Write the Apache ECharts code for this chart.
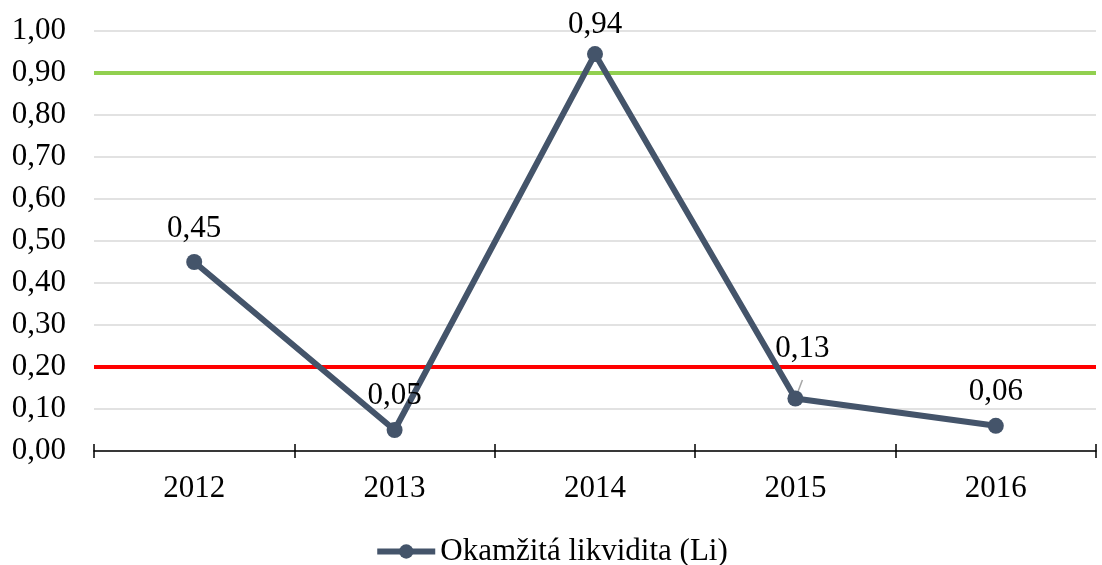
<!DOCTYPE html>
<html>
<head>
<meta charset="utf-8">
<script src="https://cdn.jsdelivr.net/npm/echarts@6/dist/echarts.min.js"></script>
<style>
  html, body { margin: 0; padding: 0; background: #fff; }
  #chart { width: 1102px; height: 565px; }
</style>
</head>
<body>
<div id="chart"></div>
<script>
var years = ["2012", "2013", "2014", "2015", "2016"];
var liValues = [0.45, 0.05, 0.945, 0.125, 0.06];
var upperLimit = 0.9;
var lowerLimit = 0.2;
var seriesName = "Okamžitá likvidita (Li)";

var font = "Liberation Serif, Times New Roman, serif";
var lineColor = "#44546A";

function fmt(v) {
  return v.toFixed(2).replace(".", ",");
}

// per point label tweaks, like the excel labels
var labelTweaks = [
  { distance: 10 },
  { distance: 11 },
  { distance: 6 },
  { distance: 26, offset: [7, 0] },
  { distance: 10 }
];

var seriesData = liValues.map(function (v, i) {
  var item = { value: v, label: labelTweaks[i] };
  if (i === 3) {
    item.labelLine = { show: true, lineStyle: { color: "#A6A6A6", width: 1.5 } };
  }
  return item;
});

var chart = echarts.init(document.getElementById("chart"));
chart.setOption({
  animation: false,
  textStyle: { fontFamily: font },
  grid: { left: 94, right: 6, top: 31, bottom: 114 },
  legend: {
    top: 531,
    left: "center",
    itemWidth: 58,
    itemHeight: 18,
    itemGap: 10,
    lineStyle: { width: 6 },
    textStyle: { fontFamily: font, fontSize: 31, color: "#000" },
    data: [seriesName]
  },
  xAxis: [
    {
      type: "category",
      data: years,
      boundaryGap: true,
      axisLine: { lineStyle: { color: "#000", width: 1.5 } },
      axisTick: { show: true, length: 7, lineStyle: { color: "#000", width: 1.5 } },
      axisLabel: { fontFamily: font, fontSize: 31, color: "#000", margin: 22 }
    },
    {
      type: "category",
      data: years,
      position: "bottom",
      boundaryGap: true,
      axisLine: { show: false },
      axisTick: { show: true, inside: true, length: 7, lineStyle: { color: "#000", width: 1.5 } },
      axisLabel: { show: false }
    }
  ],
  yAxis: {
    type: "value",
    min: 0,
    max: 1,
    interval: 0.1,
    axisLine: { show: false },
    axisTick: { show: false },
    splitLine: { lineStyle: { color: "#D9D9D9", width: 1.5 } },
    axisLabel: {
      fontFamily: font,
      fontSize: 31,
      color: "#000",
      margin: 28,
      formatter: function (v) { return fmt(v); }
    }
  },
  series: [
    {
      name: seriesName,
      type: "line",
      data: seriesData,
      xAxisIndex: 0,
      color: lineColor,
      lineStyle: { color: lineColor, width: 6 },
      itemStyle: { color: lineColor },
      symbol: "circle",
      symbolSize: 16,
      label: {
        show: true,
        position: "top",
        fontFamily: font,
        fontSize: 31,
        color: "#000",
        formatter: function (p) { return fmt(p.value); }
      },
      markLine: {
        silent: true,
        symbol: "none",
        label: { show: false },
        data: [
          { yAxis: upperLimit, lineStyle: { color: "#92D050", width: 4, type: "solid" } },
          { yAxis: lowerLimit, lineStyle: { color: "#FF0000", width: 4, type: "solid" } }
        ]
      },
      z: 5
    }
  ]
});
</script>
</body>
</html>
